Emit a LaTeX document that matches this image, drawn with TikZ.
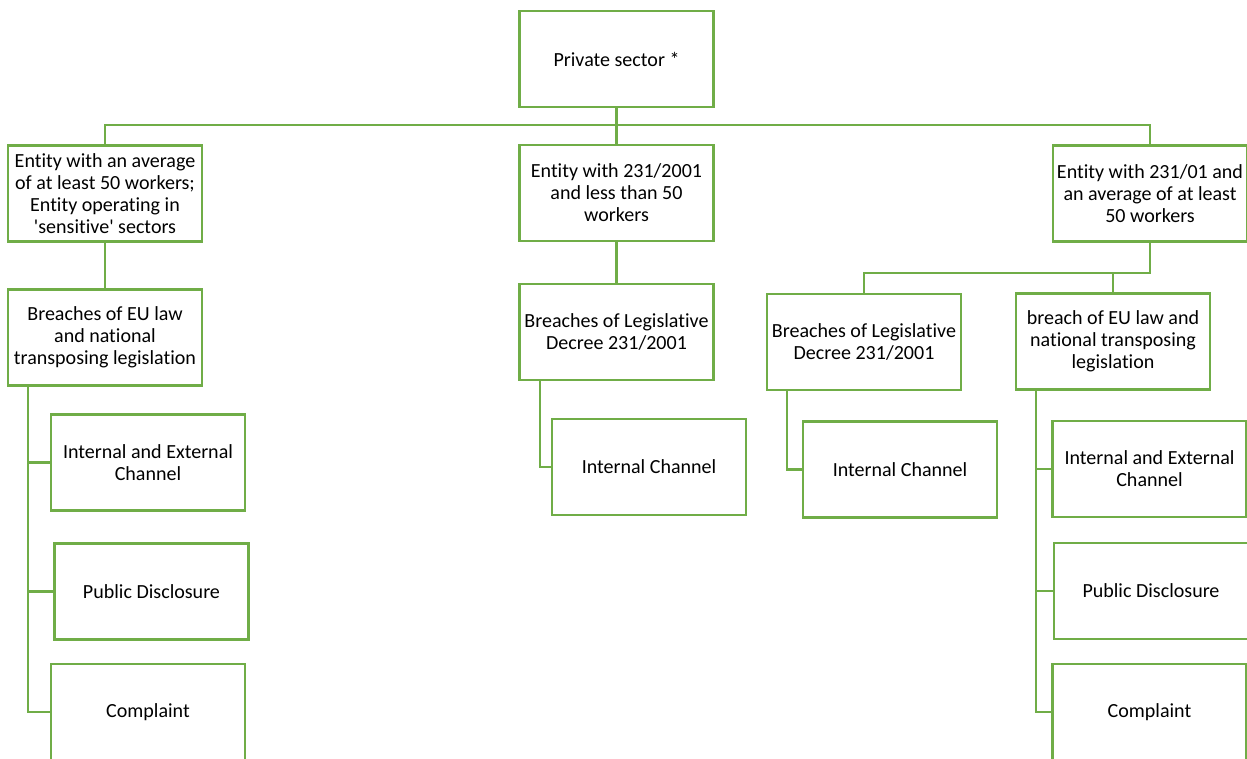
\documentclass[tikz,border=0pt]{standalone}
\usepackage{fontspec}
\setmainfont[Ligatures={NoCommon}]{Carlito}
\definecolor{orggreen}{HTML}{70AD47}

\begin{document}
\begin{tikzpicture}[
    x=0.02cm, y=-0.02cm,
    box/.style = {rectangle, draw=orggreen, line width=1.6pt,
minimum width=3.88cm, minimum height=1.92cm, inner sep=1pt,
text centered, align=center, font=\fontsize{11.4}{12.5}\selectfont},
link/.style = {draw=orggreen, line width=1.6pt},
every node/.style={fill=white}
]
  \useasboundingbox (0,0) rectangle (1247,758);
  \clip (0,0) rectangle (1247,758);

  % top level
  \node (root)  [box] at (616.5,59)  {Private sector *};
  \node (big)   [box] at (105,193.5) {Entity with an average\\of at least 50 workers;\\Entity operating in\\\textquotesingle sensitive\textquotesingle{} sectors};
  \node (small) [box] at (616.5,193) {Entity with 231/2001\\and less than 50\\workers};
  \node (mixed) [box] at (1150,193.5) {Entity with 231/01 and\\an average of at least\\50 workers};

  % breaches
  \node (euA)   [box] at (105,337.5) {Breaches of EU law\\and national\\transposing legislation};
  \node (decB)  [box] at (616.5,332) {Breaches of Legislative\\Decree 231/2001};
  \node (decC)  [box] at (864,342)   {Breaches of Legislative\\Decree 231/2001};
  \node (euC)   [box] at (1113,341.5) {breach of EU law and\\national transposing\\legislation};

  % channels
  \node (intextA) [box] at (148,462.5) {Internal and External\\Channel};
  \node (pubA)    [box] at (151.5,591.5) {Public Disclosure};
  \node (complA)  [box] at (148,712)   {Complaint};
  \node (intB)    [box] at (649,467)   {Internal Channel};
  \node (intC)    [box] at (900,469.5) {Internal Channel};
  \node (intextC) [box] at (1149.5,469) {Internal and External\\Channel};
  \node (pubC)    [box] at (1151,591)  {Public Disclosure};
  \node (complC)  [box] at (1149.5,712) {Complaint};

  \coordinate (bus)   at (616.5,125);
  \coordinate (cbus)  at (1150,273);
  \coordinate (spA)   at (28,386);
  \coordinate (spB)   at (540,380);
  \coordinate (spC1)  at (787,390);
  \coordinate (spC2)  at (1036,390);

  \draw[link] (root.south) -- (bus) -| (big.north);
  \draw[link] (bus) -| (mixed.north);
  \draw[link] (bus) -- (small.north);

  \draw[link] (big.south) -- (euA.north);
  \draw[link] (small.south) -- (decB.north);
  \draw[link] (mixed.south) -- (cbus) -| (decC.north);
  \draw[link] (cbus) -| (euC.north);

  \draw[link] (spA) |- (complA.west);
  \draw[link] (spA) |- (intextA.west);
  \draw[link] (spA) |- (pubA.west);
  \draw[link] (spB) |- (intB.west);
  \draw[link] (spC1) |- (intC.west);
  \draw[link] (spC2) |- (complC.west);
  \draw[link] (spC2) |- (intextC.west);
  \draw[link] (spC2) |- (pubC.west);

\end{tikzpicture}
\end{document}
